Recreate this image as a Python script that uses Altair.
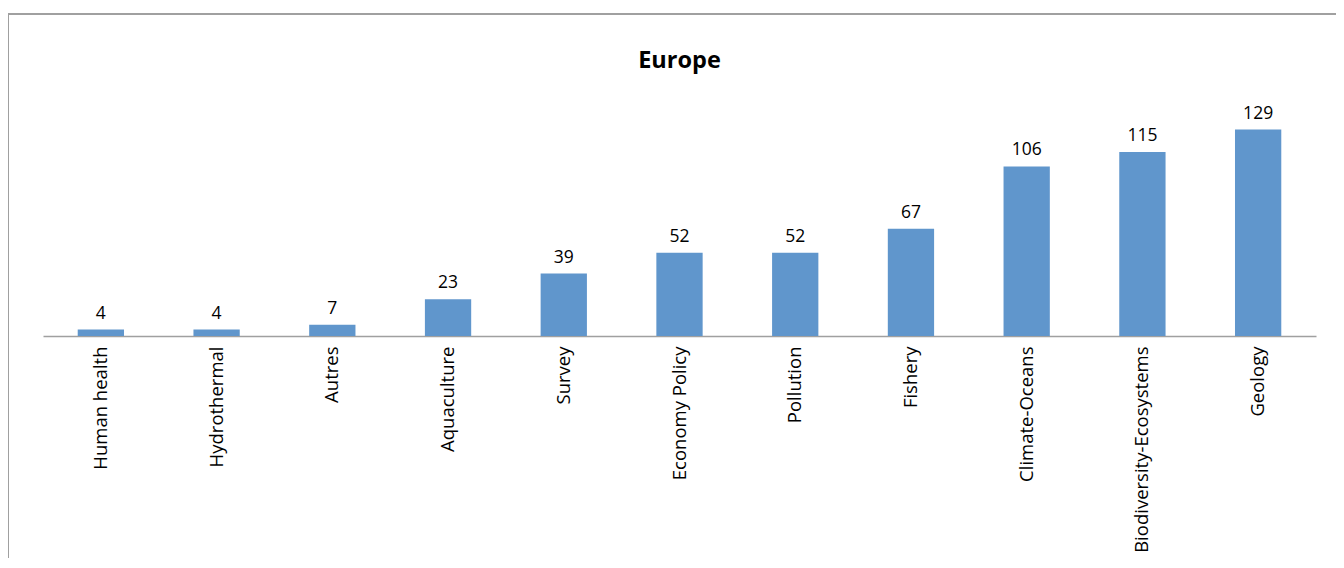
import altair as alt
import pandas as pd

categories = ["Human health", "Hydrothermal", "Autres", "Aquaculture", "Survey",
              "Economy Policy", "Pollution", "Fishery", "Climate-Oceans",
              "Biodiversity-Ecosystems", "Geology"]
values = [4, 4, 7, 23, 39, 52, 52, 67, 106, 115, 129]
title_text = "Europe"

df = pd.DataFrame({"category": categories, "value": values})

FONT = "Open Sans"
BAR = "#6096CC"

x = alt.X("category:N", sort=categories,
          scale=alt.Scale(paddingInner=0.6, paddingOuter=0.3),
          axis=alt.Axis(title=None, labelAngle=-90, ticks=False, domain=True,
                        domainColor="#A0A0A0", domainWidth=1.5,
                        labelFont=FONT, labelFontSize=18.5, labelColor="#000000",
                        labelPadding=10, labelLimit=400))
y = alt.Y("value:Q", scale=alt.Scale(domain=[0, 140], nice=False), axis=None)

bars = alt.Chart(df).mark_bar(color=BAR).encode(x=x, y=y)
labels = alt.Chart(df).mark_text(font=FONT, fontSize=17.5, baseline="alphabetic",
                                 dy=-11, color="#000000").encode(
    x=x, y=y, text="value:Q")

border = alt.Chart(df.head(1)).mark_rect(fill=None, stroke="#A0A0A0", strokeWidth=2).encode(
    x=alt.value(-35), x2=alt.value(1400), y=alt.value(-98), y2=alt.value(600))

title = alt.Chart(df.head(1)).mark_text(font=FONT, fontSize=23.5, fontWeight="bold",
                                        baseline="alphabetic", align="center",
                                        color="#000000").encode(
    x=alt.value(636.5), y=alt.value(-44), text=alt.value(title_text))

chart = alt.layer(border, bars, labels, title).properties(
    width=1273, height=224,
    autosize=alt.AutoSizeParams(type="none"),
    padding={"left": 35, "top": 104, "right": 20, "bottom": 222},
).configure_view(stroke=None)

chart.save("out.html", embed_options={"renderer": "svg", "actions": False})
